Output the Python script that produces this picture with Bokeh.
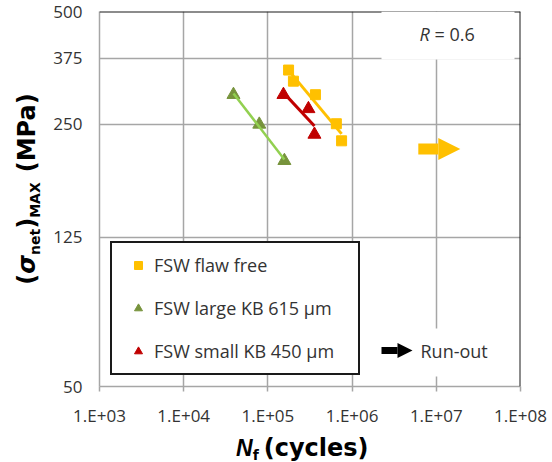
import numpy as np
from bokeh.plotting import figure
from bokeh.models import (FixedTicker, Span, Label, BoxAnnotation, Arrow, NormalHead,
                          ColumnDataSource, Legend, LegendItem, Div)
from bokeh.layouts import row, column
from bokeh.embed import file_html
from bokeh.resources import INLINE

# ---------------- data ----------------
flaw_free_N = [1.76e5, 2.01e5, 3.67e5, 6.5e5, 7.5e5]
flaw_free_S = [349, 326, 300, 251, 226]
large_kb_N = [3.9e4, 7.9e4, 1.57e5]
large_kb_S = [300, 250, 200]
small_kb_N = [1.53e5, 3.03e5, 3.57e5]
small_kb_S = [300, 275, 235]
runout_N = [1.0e7]
runout_S = [215]

x_ticks = [1e3, 1e4, 1e5, 1e6, 1e7, 1e8]
x_tick_labels = ["1.E+03", "1.E+04", "1.E+05", "1.E+06", "1.E+07", "1.E+08"]
y_ticks = [50, 125, 250, 375, 500]
y_tick_labels = ["50", "125", "250", "375", "500"]

series_labels = ["FSW flaw free", "FSW large KB 615 \u03bcm", "FSW small KB 450 \u03bcm"]

YELLOW = "#FFC000"
GREEN_M = "#77933C"
GREEN_L = "#92D050"
RED = "#C00000"
GRID = "#a6a6a6"
TXT = "#333333"

# ---------------- page geometry ----------------
W, H = 552, 462
WD = 46          # width of the y-title strip
HD = 30          # height of the x-title strip
FX0, FX1, FY0, FY1 = 99, 520, 11, 386   # frame in page pixels
XR = (x_ticks[0], x_ticks[-1])
YR = (y_ticks[0], y_ticks[-1])


def dx(px):
    lo, hi = np.log10(XR[0]), np.log10(XR[1])
    return 10 ** (lo + (hi - lo) * (px - FX0) / (FX1 - FX0))


def dy(py):
    lo, hi = np.log10(YR[0]), np.log10(YR[1])
    return 10 ** (hi - (hi - lo) * (py - FY0) / (FY1 - FY0))


p = figure(width=W - WD, height=H - HD, x_axis_type="log", y_axis_type="log",
           x_range=XR, y_range=YR, output_backend="svg", toolbar_location=None,
           title=None, min_border_left=FX0 - WD, min_border_right=W - FX1,
           min_border_top=FY0, min_border_bottom=H - HD - FY1)
p.background_fill_color = "white"
p.border_fill_color = "white"
p.outline_line_color = None

# axes
p.xaxis.ticker = FixedTicker(ticks=x_ticks, minor_ticks=[])
p.xaxis.major_label_overrides = {t: l for t, l in zip(x_ticks, x_tick_labels)}
p.yaxis.ticker = FixedTicker(ticks=y_ticks, minor_ticks=[])
p.yaxis.major_label_overrides = {t: l for t, l in zip(y_ticks, y_tick_labels)}
for ax in (p.xaxis[0], p.yaxis[0]):
    ax.axis_line_color = GRID
    ax.axis_line_width = 1.5
    ax.major_label_text_font = "Open Sans"
    ax.major_label_text_font_size = "17px"
    ax.major_label_text_color = TXT
    ax.major_tick_line_color = GRID
    ax.major_tick_line_width = 1.5
    ax.minor_tick_line_color = None
p.xaxis.major_tick_out = 5
p.xaxis.major_tick_in = 0
p.xaxis.major_label_standoff = 12
p.yaxis.major_tick_out = 0
p.yaxis.major_tick_in = 0
p.yaxis.major_label_standoff = 17

p.xgrid.ticker = FixedTicker(ticks=x_ticks)
p.ygrid.ticker = FixedTicker(ticks=y_ticks[1:-1])
for g in (p.xgrid[0], p.ygrid[0]):
    g.grid_line_color = GRID
    g.grid_line_width = 1.5

# top / right border
p.add_layout(Span(location=YR[1], dimension="width", line_color="#1a1a1a", line_width=2))
p.add_layout(Span(location=XR[1], dimension="height", line_color="#1a1a1a", line_width=2))

# white boxes hiding grid behind texts
p.add_layout(BoxAnnotation(left=dx(381), right=dx(514), bottom=dy(59), top=dy(FY0),
                           fill_color="white", fill_alpha=1, line_color=None))
p.add_layout(BoxAnnotation(left=dx(372), right=dx(505), bottom=dy(376), top=dy(328),
                           fill_color="white", fill_alpha=1, line_color=None))

# ---------------- data marks ----------------
r_ff = p.scatter(flaw_free_N, flaw_free_S, marker="square", size=10,
                 fill_color=YELLOW, line_color=YELLOW)
r_lk = p.scatter(large_kb_N, large_kb_S, marker="triangle", size=13,
                 fill_color=GREEN_M, line_color=GREEN_M)
r_sk = p.scatter(small_kb_N, small_kb_S, marker="triangle", size=13,
                 fill_color=RED, line_color=RED)


def power_trend(N, S):
    lx, ly = np.log10(N), np.log10(S)
    b, a = np.polyfit(lx, ly, 1)
    xs = np.array([lx.min(), lx.max()])
    return 10 ** xs, 10 ** (a + b * xs)


for N, S, c, w in ((flaw_free_N, flaw_free_S, YELLOW, 3),
                   (large_kb_N, large_kb_S, GREEN_L, 2.5),
                   (small_kb_N, small_kb_S, RED, 3)):
    tx, ty = power_trend(N, S)
    p.line(tx, ty, line_color=c, line_width=w)

# run-out arrow (data point)
px_per_dec = (FX1 - FX0) / np.log10(XR[1] / XR[0])
ro = ColumnDataSource(dict(
    xs=[n * 10 ** (-18 / px_per_dec) for n in runout_N],
    xe=[n * 10 ** (24 / px_per_dec) for n in runout_N],
    y=runout_S))
p.add_layout(Arrow(x_start="xs", y_start="y", x_end="xe", y_end="y", source=ro,
                   line_color=YELLOW, line_width=11,
                   end=NormalHead(size=22, fill_color=YELLOW, line_color=YELLOW, line_width=0)))

# ---------------- legend ----------------
legend = Legend(items=[LegendItem(label=series_labels[0], renderers=[r_ff]),
                       LegendItem(label=series_labels[1], renderers=[r_lk]),
                       LegendItem(label=series_labels[2], renderers=[r_sk])],
                location="bottom_left", margin=11, padding=10, spacing=19,
                glyph_width=32, glyph_height=20, label_height=20,
                label_standoff=0, label_width=194,
                label_text_font="Open Sans", label_text_font_size="18px",
                label_text_color=TXT, border_line_color="#1a1a1a",
                border_line_width=2, border_line_alpha=1,
                background_fill_color="white", background_fill_alpha=1)
p.add_layout(legend)

# run-out key
p.add_layout(Arrow(x_start=dx(381), y_start=dy(350), x_end=dx(412), y_end=dy(350),
                   line_color="black", line_width=7,
                   end=NormalHead(size=15, fill_color="black", line_color="black", line_width=0)))
p.add_layout(Label(x=dx(420), y=dy(350), text="Run-out", text_font="Open Sans",
                   text_font_size="18px", text_color=TXT, text_baseline="middle"))

# R = 0.6
p.add_layout(Label(x=dx(419), y=dy(33), text="R", text_font="Open Sans",
                   text_font_style="italic", text_font_size="18px", text_color=TXT,
                   text_baseline="middle"))
p.add_layout(Label(x=dx(434), y=dy(33), text="= 0.6", text_font="Open Sans",
                   text_font_size="18px", text_color=TXT, text_baseline="middle"))

# ---------------- axis titles (HTML, with real subscripts) ----------------
FONT = "font-family:'DejaVu Sans';font-weight:bold;color:black;white-space:nowrap;line-height:1;"
y_title = (
    f"<div style='position:relative;width:{WD}px;height:{H}px;'>"
    f"<div style=\"position:absolute;left:28px;top:189px;"
    f"transform:translate(-50%,-50%) rotate(-90deg);{FONT}font-size:24px;\">"
    "(<i>&sigma;</i><sub style='font-size:14px;vertical-align:-5px;'>net</sub>)"
    "<sub style='font-size:14px;vertical-align:-5px;'>MAX</sub>"
    "<span style='padding-left:10px;'>(MPa)</span></div></div>"
)
x_title = (
    f"<div style='position:relative;width:{W - WD}px;height:{HD}px;'>"
    f"<div style=\"position:absolute;left:{236 - WD}px;top:4px;{FONT}font-size:24px;\">"
    "<i style=\"font-family:'Liberation Sans';font-size:23px;\">N</i>"
    "<sub style='font-size:14px;vertical-align:-4px;'>f</sub>"
    "<span style='padding-left:5px;'>(cycles)</span></div></div>"
)
div_y = Div(text=y_title, width=WD, height=H, margin=0)
div_x = Div(text=x_title, width=W - WD, height=HD, margin=0)

layout = row(div_y, column(p, div_x, spacing=0), spacing=0)

open("out.html", "w").write(file_html(layout, INLINE))
